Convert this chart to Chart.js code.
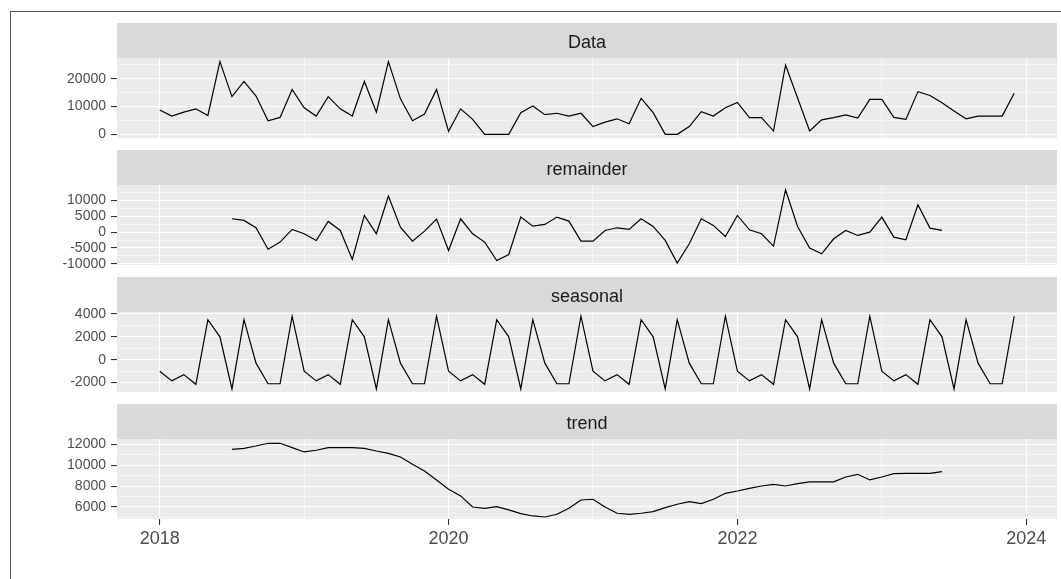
<!DOCTYPE html>
<html>
<head>
<meta charset="utf-8">
<script src="https://cdn.jsdelivr.net/npm/chart.js@4.4.1/dist/chart.umd.min.js"></script>
<style>
body { margin:0; background:#fff; width:1061px; height:579px; overflow:hidden; position:relative; }
#frame { position:absolute; left:10px; top:11px; width:1100px; height:600px; border-left:1px solid #555; border-top:1px solid #555; }
.box { position:absolute; left:0; }
</style>
</head>
<body>
<div id="frame"></div>
<div class="box" style="top:23px"><canvas id="c0" width="1061" height="127"></canvas></div>
<div class="box" style="top:150px"><canvas id="c1" width="1061" height="127"></canvas></div>
<div class="box" style="top:277px"><canvas id="c2" width="1061" height="127"></canvas></div>
<div class="box" style="top:404px"><canvas id="c3" width="1061" height="155"></canvas></div>
<script>
// monthly series 2018-01 .. 2023-12
var months = [];
for (var yr = 2018; yr <= 2023; yr++) {
  for (var m = 0; m < 12; m++) months.push(yr + m / 12);
}

var dataVals = [
  8800, 6600, 8000, 9200, 6800, 26200, 13600, 19100, 13800, 4900, 6100, 16200,
  9600, 6600, 13600, 9200, 6600, 19100, 8000, 26200, 12800, 4900, 7300, 16200,
  1100, 9200, 5400, 0, 0, 0, 7800, 10200, 7100, 7600, 6600, 7600,
  2800, 4400, 5600, 3800, 13000, 7800, 0, 0, 2800, 8200, 6600, 9600,
  11500, 6000, 6000, 1200, 25000, 13100, 1200, 5200, 6000, 7000, 5900, 12600,
  12600, 6100, 5400, 15400, 14000, 11400, 8400, 5600, 6600, 6600, 6600, 14800
];

var remainderVals = [
  null, null, null, null, null, null, 4220, 3700, 1370, -5400, -3160, 850,
  -530, -2640, 3380, 530, -8650, 5270, -530, 11400, 1580, -2850, 320, 4110,
  -5800, 4220, -530, -3160, -8970, -7070, 4750, 1900, 2430, 4750, 3480, -2850,
  -2850, 530, 1370, 850, 4220, 1800, -2640, -9810, -3690, 4220, 2120, -1370,
  5270, 740, -530, -4430, 13400, 1800, -5060, -6860, -2110, 530, -1050, 0,
  4750, -1580, -2430, 8650, 1270, 530, null, null, null, null, null, null
];

var seasonalVals = [
  -1000, -1850, -1300, -2150, 3500, 2000, -2550, 3500, -300, -2100, -2100, 3800,
  -1000, -1850, -1300, -2150, 3500, 2000, -2550, 3500, -300, -2100, -2100, 3800,
  -1000, -1850, -1300, -2150, 3500, 2000, -2550, 3500, -300, -2100, -2100, 3800,
  -1000, -1850, -1300, -2150, 3500, 2000, -2550, 3500, -300, -2100, -2100, 3800,
  -1000, -1850, -1300, -2150, 3500, 2000, -2550, 3500, -300, -2100, -2100, 3800,
  -1000, -1850, -1300, -2150, 3500, 2000, -2550, 3500, -300, -2100, -2100, 3800
];

var trendVals = [
  null, null, null, null, null, null, 11520, 11620, 11840, 12100, 12100, 11680,
  11270, 11430, 11680, 11680, 11680, 11620, 11360, 11140, 10790, 10090, 9450, 8590,
  7690, 7060, 6000, 5870, 6030, 5720, 5360, 5140, 5040, 5300, 5870, 6670,
  6740, 6000, 5400, 5300, 5400, 5560, 5940, 6260, 6510, 6320, 6740, 7310,
  7530, 7790, 8010, 8170, 8010, 8240, 8400, 8400, 8400, 8870, 9130, 8590,
  8870, 9190, 9220, 9220, 9220, 9380, null, null, null, null, null, null
];

var xMajor = [2018, 2020, 2022, 2024];
var xMinor = [2019, 2021, 2023];

var dataMajor = [0, 10000, 20000];
var dataMinor = [5000, 15000, 25000];
var remMajor = [-10000, -5000, 0, 5000, 10000];
var remMinor = [-7500, -2500, 2500, 7500, 12500];
var seasMajor = [-2000, 0, 2000, 4000];
var seasMinor = [-1000, 1000, 3000];
var trendMajor = [6000, 8000, 10000, 12000];
var trendMinor = [5000, 7000, 9000, 11000];

var FONT = '"Liberation Sans", Arial, sans-serif';

var panelPlugin = {
  id: 'panelBg',
  beforeDraw: function (chart, args, opts) {
    var ctx = chart.ctx, a = chart.chartArea;
    ctx.save();
    ctx.fillStyle = '#EBEBEB';
    ctx.fillRect(a.left, a.top, a.right - a.left, a.bottom - a.top);
    ctx.fillStyle = '#D9D9D9';
    ctx.fillRect(a.left, a.top - 35, a.right - a.left, 35);
    ctx.fillStyle = '#1A1A1A';
    ctx.font = '18px ' + FONT;
    ctx.textAlign = 'center';
    ctx.textBaseline = 'middle';
    ctx.fillText(opts.title, (a.left + a.right) / 2, a.top - 35 + 20);
    ctx.restore();
  }
};

function tickList(major, minor) {
  return major.concat(minor).sort(function (a, b) { return a - b; })
    .map(function (v) { return { value: v }; });
}

function makePanel(id, title, values, yMin, yMax, major, minor, showX) {
  var pts = months.map(function (t, i) { return { x: t, y: values[i] }; });

  new Chart(document.getElementById(id), {
    type: 'line',
    data: {
      datasets: [{
        data: pts,
        borderColor: '#000000',
        borderWidth: 1.2,
        pointRadius: 0,
        tension: 0,
        fill: false
      }]
    },
    plugins: [panelPlugin],
    options: {
      responsive: false,
      animation: false,
      layout: { padding: { left: 0, right: 4, top: 35, bottom: showX ? 0 : 12 } },
      plugins: {
        legend: { display: false },
        tooltip: { enabled: false },
        panelBg: { title: title }
      },
      scales: {
        x: {
          type: 'linear',
          min: 2017.704,
          max: 2024.213,
          afterBuildTicks: function (s) { s.ticks = tickList(xMajor, xMinor); },
          afterFit: function (s) { s.height = showX ? 40 : 0; s.paddingLeft = 0; s.paddingRight = 0; },
          border: { display: false },
          grid: {
            color: '#FFFFFF',
            lineWidth: function (c) { return xMajor.indexOf(c.tick.value) >= 0 ? 1.1 : 0.55; },
            drawTicks: showX,
            tickLength: 6,
            tickWidth: 1.1,
            tickColor: function (c) { return xMajor.indexOf(c.tick.value) >= 0 ? '#333333' : 'rgba(0,0,0,0)'; }
          },
          ticks: {
            display: showX,
            autoSkip: false,
            maxRotation: 0,
            padding: 3,
            color: '#4D4D4D',
            font: { family: FONT, size: 18 },
            callback: function (v) { return xMajor.indexOf(v) >= 0 ? String(v) : ''; }
          }
        },
        y: {
          min: yMin,
          max: yMax,
          afterBuildTicks: function (s) { s.ticks = tickList(major, minor); },
          afterFit: function (s) { s.width = 117; s.paddingTop = 0; s.paddingBottom = 0; },
          border: { display: false },
          grid: {
            color: '#FFFFFF',
            lineWidth: function (c) { return major.indexOf(c.tick.value) >= 0 ? 1.1 : 0.55; },
            tickLength: 6,
            tickWidth: 1.1,
            tickColor: function (c) { return major.indexOf(c.tick.value) >= 0 ? '#333333' : 'rgba(0,0,0,0)'; }
          },
          ticks: {
            autoSkip: false,
            padding: 5,
            color: '#4D4D4D',
            font: { family: FONT, size: 14 },
            callback: function (v) { return major.indexOf(v) >= 0 ? String(v) : ''; }
          }
        }
      }
    }
  });
}

makePanel('c0', 'Data', dataVals, -1310, 27510, dataMajor, dataMinor, false);
makePanel('c1', 'remainder', remainderVals, -10400, 14900, remMajor, remMinor, false);
makePanel('c2', 'seasonal', seasonalVals, -2820, 4170, seasMajor, seasMinor, false);
makePanel('c3', 'trend', trendVals, 4850, 12510, trendMajor, trendMinor, true);
</script>
</body>
</html>
